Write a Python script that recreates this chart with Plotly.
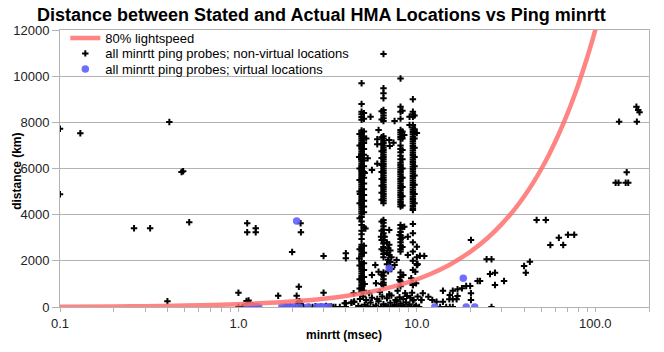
import plotly.graph_objects as go

# ---------------- data ----------------
# 80% lightspeed reference curve (minrtt msec -> km)
curve_rtt = [0.1, 0.2, 0.3, 0.5, 0.7, 1, 1.5, 2, 3, 4, 5, 6, 7, 8, 10, 12, 15, 20, 25,
             30, 35, 40, 45, 50, 55, 60, 65, 70, 75, 80, 85, 90, 95, 100, 105]
curve_km = [12, 24, 36, 60, 84, 120, 180, 240, 360, 480, 600, 720, 840, 960, 1200, 1440,
            1800, 2400, 3000, 3600, 4200, 4800, 5400, 6000, 6600, 7200, 7800, 8400, 9000,
            9600, 10200, 10800, 11400, 12000, 12600]

# sparse non-virtual probes, left part
left_rtt = [0.1, 0.13, 0.41, 0.48, 0.49, 0.1, 0.26, 0.32, 0.53, 1.12, 1.12, 1.25, 1.25,
            0.40, 1.0, 1.0, 1.67, 2.0, 2.23, 2.24, 2.12, 2.18, 3.0, 3.0, 4.0, 4.0, 2.18,
            2.18, 4.42, 3.94, 4.3, 4.0, 4.45]
left_km = [7725, 7526, 8015, 5849, 5880, 4883, 3410, 3410, 3670, 3626, 3236, 3410, 3236,
           247, 620, 0, 490, 2383, 3626, 3236, 490, 880, 2210, 620, 2327, 2110, 230,
           100, 594, 160, 186, 0, 230]

# bottom-left clusters
bl_rtt = [1.05, 1.08, 1.1, 1.12, 1.14, 1.16, 1.18, 1.2, 1.22, 1.25, 1.28, 1.11, 1.14, 1.16,
          1.13, 1.8, 1.85, 1.9, 1.95, 2.0, 2.1, 2.15, 2.2, 2.25, 2.3, 2.5, 2.6, 2.7, 2.8,
          2.9, 3.05, 3.1, 3.2, 3.3, 3.5, 2.2, 2.15, 2.25]
bl_km = [0, 20, 0, 40, 0, 30, 0, 60, 0, 20, 0, 260, 280, 150, 100, 0, 30, 0, 20, 0, 30, 0,
         50, 0, 20, 0, 0, 30, 0, 20, 0, 50, 0, 20, 0, 250, 150, 100]

# the dense columns of the main cluster (a main line plus slightly offset neighbours)
colA_rtt = 4.9
colA_km = [9690, 8795, 8460, 8350, 8230, 8110, 7650, 7560, 7470, 7380, 7290, 7200, 7110,
           7020, 6930, 6840, 6750, 6660, 6570, 6480, 6390, 6300, 6210, 6120, 6030, 5940,
           5850, 5760, 5670, 5580, 5490, 5400, 5310, 5220, 5130, 5040, 4950, 4860, 4770,
           4680, 4590, 4500, 4410, 4320, 4230, 4140, 4050, 3900, 3700, 3550, 3300, 3150,
           2950, 2700, 2600, 2500, 2400, 2300, 2200, 1950, 1850, 1750, 1650, 1550, 1450,
           1350, 1250, 1150, 1050, 950, 850, 750, 650]
colA2_rtt = 5.05
colA2_km = [8400, 8150, 7600, 7350, 7100, 6850, 6600, 6350, 6100, 5850, 5600, 5350, 5100,
            4850, 4600, 4350, 4100, 3450, 2650, 2350, 1900, 1600, 1300, 1000, 700]
colA3_rtt = 4.78
colA3_km = [7500, 7000, 6500, 6000, 5500, 5000, 4500, 3850, 2500, 1800, 1200, 800]
colB_rtt = 6.5
colB_km = [10960, 9476, 9260, 9043, 8535, 8420, 8300, 8180, 8060, 7400, 7300, 7200, 7100,
           7000, 6900, 6800, 6700, 6600, 6500, 6400, 6300, 6200, 6100, 6000, 5900, 5800,
           5700, 5600, 5500, 5400, 5300, 5200, 5100, 5000, 4900, 4800, 4700, 4600, 4500,
           3770, 3650, 3500, 3350, 3200, 3050, 2900, 2750, 2600, 2450, 2300, 2150, 1500,
           1350, 1200, 1050, 950]
colB2_rtt = 6.35
colB2_km = [8480, 8120, 7350, 7050, 6750, 6450, 6150, 5850, 5550, 5250, 4950, 4650, 3700,
            3300, 2900, 2500, 1400, 1000]
colC_rtt = 8.1
colC_km = [9900, 8680, 8462, 8160, 7670, 7570, 7470, 7370, 7270, 7000, 6850, 6700, 6550,
           6400, 6250, 6150, 6050, 5950, 5850, 5750, 5650, 5550, 5450, 5350, 5250, 5150,
           5050, 4950, 4850, 4750, 4650, 4550, 4450, 4350, 3550, 3400, 3250, 3100, 2950,
           2800, 2650, 2500, 2400, 1500, 1300, 1100, 900]
colC2_rtt = 8.3
colC2_km = [8500, 7600, 7300, 6800, 6400, 6000, 5600, 5200, 4800, 4400, 3450, 3000, 2600]
colD_rtt = 9.5
colD_km = [9000, 8462, 8350, 8245, 7886, 7780, 7680, 7580, 7480, 7380, 7280, 7180, 7080,
           6980, 6880, 6780, 6680, 6580, 6480, 6380, 6280, 6180, 6080, 5980, 5880, 5780,
           5680, 5580, 5480, 5380, 5280, 5180, 5080, 4980, 4880, 4780, 4680, 4580, 4480,
           4380, 4280, 4200, 3600, 3200, 2800, 2400, 2000, 1600, 1027, 953]
colD2_rtt = 9.7
colD2_km = [8300, 7700, 7300, 6900, 6500, 6100, 5700, 5300, 4900, 4500]

# scattered points around the columns
ext_rtt = [5.2, 4.75, 5.1, 4.8, 5.15, 4.75, 5.1, 5.3, 5.6, 5.5, 6.0, 6.0, 6.1, 6.0, 7.0,
           7.05, 7.4, 7.5, 8.5, 9.1, 10.0, 9.1, 7.0, 6.6, 6.3, 7.7, 7.5, 8.0, 8.5, 8.9,
           10.0, 10.0, 8.9, 8.4, 8.0, 9.3, 9.8, 5.6, 5.85, 6.1, 5.9, 10.4, 10.1, 9.9, 9.5,
           11.0, 10.0, 10.0,
           6.8, 7.0, 6.9, 7.1, 6.8, 7.0, 7.2, 6.9, 7.1, 6.8, 7.0, 7.2, 6.9]
ext_km = [7300, 6500, 5800, 4900, 3400, 2100, 1000, 6442, 5936, 8245, 7270, 7050, 7670,
          6210, 7236, 6976, 7120, 8060, 7450, 7886, 7540, 8245, 3336, 3046, 3046, 2036,
          1820, 3120, 3480, 3046, 2613, 1820, 2253, 1386, 1170, 1243, 1530, 1386, 1820,
          1530, 1027, 2223, 1850, 1027, 953, 2210, 2153, 1863,
          2800, 2700, 2550, 2450, 2350, 2250, 2150, 2050, 1950, 1850, 1750, 1650, 1550]

# bottom of the main cluster
bm_rtt = [3.4, 3.7, 4.0, 4.3, 4.45, 4.7, 4.9, 5.1, 5.3, 5.5, 5.7, 5.9, 6.1, 6.3, 6.5, 6.7,
          6.9, 7.1, 7.3, 7.5, 7.7, 7.9, 8.1, 8.3, 8.5, 8.7, 8.9, 9.1, 9.3, 9.5, 9.7, 9.9,
          10.3, 10.6, 4.8, 5.0, 5.2, 5.6, 6.0, 6.4, 6.8, 7.2, 7.6, 8.0, 8.4, 8.8, 9.2, 9.6,
          10.1, 5.4, 6.2, 7.0, 7.8, 8.6, 9.4]
bm_km = [0, 0, 160, 190, 230, 40, 0, 100, 30, 200, 0, 60, 250, 0, 120, 40, 0, 180, 0, 90,
         250, 0, 150, 40, 0, 200, 0, 110, 0, 280, 0, 60, 0, 300, 350, 450, 300, 400, 350,
         450, 380, 500, 300, 420, 350, 480, 400, 300, 450, 600, 650, 550, 700, 600, 620]

# region between 10 and 30 msec
mid_rtt = [10.6, 11.6, 12.2, 10.8, 12.9, 14.0, 14.6, 15.3, 15.9, 13.5, 15.2, 15.9, 16.7,
           16.9, 15.3, 15.9, 16.9, 17.9, 14.0, 18.9, 19.9, 20.1, 20.1, 20.1, 21.9, 22.6,
           24.6, 26.2, 25.7, 27.4, 30.8, 27.4, 26.2]
mid_km = [303, 446, 303, 594, 230, 230, 0, 0, 0, 0, 333, 333, 333, 477, 520, 706, 767,
          810, 706, 910, 910, 594, 303, 2903, 1127, 1127, 2067, 2067, 1430, 1486, 1127,
          953, 0]

# right part
right_rtt = [46.9, 52.8, 39.9, 43.0, 40.8, 62.5, 56.0, 66.1, 70.3, 76.2, 130, 135, 148,
             153, 150, 136, 171, 170, 174, 177]
right_km = [3770, 3770, 1777, 1963, 1486, 3003, 2686, 2686, 3133, 3133, 5386, 5386, 5386,
            5386, 5836, 8030, 8030, 8680, 8536, 8436]

# virtual locations
virt_rtt = [1.12, 1.16, 1.2, 1.25, 1.3, 1.75, 1.85, 1.95, 2.05, 2.2, 2.45, 2.75, 2.9, 3.0,
            3.2, 12.6, 18.9, 21.1, 2.12, 7.0, 18.2]
virt_km = [0, 10, 0, 10, 0, 0, 10, 0, 10, 0, 0, 0, 10, 0, 10, 0, 0, 0, 3726, 1677, 1243]

x_ticks = [0.1, 1, 10, 100]
x_tick_text = ["0.1", "1.0", "10.0", "100.0"]
x_minor_ticks = [0.2, 0.3, 0.4, 0.5, 0.6, 0.7, 0.8, 0.9, 2, 3, 4, 5, 6, 7, 8, 9,
                 20, 30, 40, 50, 60, 70, 80, 90, 200]

# ---------------- assemble ----------------
columns = [(colA_rtt, colA_km), (colA2_rtt, colA2_km), (colA3_rtt, colA3_km),
           (colB_rtt, colB_km), (colB2_rtt, colB2_km), (colC_rtt, colC_km),
           (colC2_rtt, colC2_km), (colD_rtt, colD_km), (colD2_rtt, colD2_km)]
nv_x = left_rtt + bl_rtt
nv_y = left_km + bl_km
for rtt, kms in columns:
    nv_x += [rtt] * len(kms)
    nv_y += kms
nv_x += ext_rtt + bm_rtt + mid_rtt + right_rtt
nv_y += ext_km + bm_km + mid_km + right_km

FONT = "Liberation Sans, Arial, sans-serif"
GRID = "#b3b3b3"

fig = go.Figure()
fig.add_trace(go.Scatter(
    x=nv_x, y=nv_y, mode="markers", name="all minrtt ping probes; non-virtual locations",
    marker=dict(symbol="cross-thin", size=4.6, color="black",
                line=dict(width=2, color="black")),
    legend="legend2"))
fig.add_trace(go.Scatter(
    x=virt_rtt, y=virt_km, mode="markers", name="all minrtt ping probes; virtual locations",
    marker=dict(symbol="circle", size=7.5, color="rgba(95,95,255,0.9)"),
    legend="legend3"))
fig.add_trace(go.Scatter(
    x=curve_rtt, y=curve_km, mode="lines", name="80% lightspeed",
    line=dict(color="rgba(255,110,110,0.85)", width=4.5, shape="spline"),
    legend="legend"))

leg_common = dict(x=0.009, xanchor="left", yanchor="top", bgcolor="rgba(0,0,0,0)",
                  borderwidth=0, font=dict(family=FONT, size=13, color="black"))

fig.update_layout(
    width=664, height=352,
    margin=dict(l=60, r=15, t=30, b=45),
    paper_bgcolor="white", plot_bgcolor="white",
    font=dict(family=FONT, size=13, color="#111"),
    title=dict(text="<b>Distance between Stated and Actual HMA Locations vs Ping minrtt</b>",
               font=dict(family=FONT, size=18, color="black"),
               x=0.484, xref="container", xanchor="center",
               y=0.957, yref="container", yanchor="middle"),
    showlegend=True,
    legend=dict(y=1.0255, **leg_common),
    legend2=dict(y=0.9695, **leg_common),
    legend3=dict(y=0.9135, **leg_common),
    xaxis=dict(type="log", range=[-1, 2.30103], tickvals=x_ticks, ticktext=x_tick_text,
               ticks="outside", ticklen=4, tickcolor=GRID, showgrid=False,
               minor=dict(tickvals=x_minor_ticks, ticks="outside", ticklen=4,
                          tickcolor=GRID, showgrid=False),
               showline=True, linecolor=GRID, mirror=True, zeroline=False,
               automargin=False, tickfont=dict(size=13, color="#222")),
    xaxis2=dict(type="log", range=[-1, 2.30103], overlaying="x", anchor="y", side="bottom",
                tickvals=x_ticks + [200], ticks="inside", ticklen=6, tickcolor=GRID,
                showticklabels=False, showgrid=False, showline=False, zeroline=False,
                automargin=False),
    yaxis=dict(range=[0, 12000], dtick=2000, ticks="outside", ticklen=7, tickcolor=GRID,
               showgrid=True, gridcolor=GRID, gridwidth=1, showline=True, linecolor=GRID,
               mirror=True, zeroline=False, tickformat="d", automargin=False,
               tickfont=dict(size=13, color="#222")),
    annotations=[
        dict(text="<b>minrtt (msec)</b>", xref="paper", yref="paper", x=0.482, y=-0.1,
             xanchor="center", yanchor="middle", showarrow=False,
             font=dict(family=FONT, size=12, color="black")),
        dict(text="<b>distance (km)</b>", xref="paper", yref="paper", x=-0.072, y=0.49,
             xanchor="center", yanchor="middle", showarrow=False, textangle=-90,
             font=dict(family=FONT, size=12, color="black")),
    ],
)

fig.write_html("out.html")
